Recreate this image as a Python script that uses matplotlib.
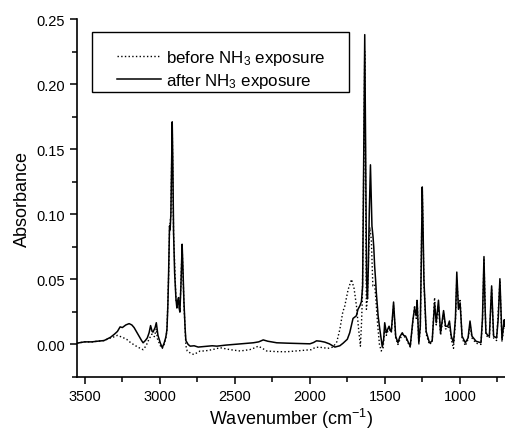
import matplotlib
matplotlib.use('Agg')

import matplotlib.pyplot as plt
from matplotlib.patches import Rectangle
from matplotlib.ticker import MultipleLocator, FormatStrFormatter

plt.rcParams['font.family'] = ['Liberation Sans', 'DejaVu Sans']
plt.rcParams['mathtext.default'] = 'regular'

# after NH3 exposure (solid)
wn_after = [3550, 3500, 3450, 3414, 3370, 3327, 3300, 3281, 3263, 3248, 3225, 3203, 3185, 3170,
            3150, 3137, 3120, 3110, 3095, 3082, 3070, 3060, 3050, 3044, 3030, 3022, 3011, 2995,
            2982, 2970, 2960, 2955, 2951, 2945, 2940, 2934, 2930, 2925, 2916, 2912, 2907, 2900,
            2891, 2885, 2880, 2874, 2870, 2865, 2858, 2850, 2845, 2838, 2830, 2825, 2810, 2796,
            2770, 2743, 2700, 2650, 2619, 2560, 2509, 2450, 2376, 2340, 2310, 2280, 2220, 2150,
            2080, 1999, 1975, 1955, 1930, 1900, 1870, 1833, 1800, 1778, 1750, 1734, 1712, 1690,
            1679, 1665, 1656, 1648, 1642, 1634, 1628, 1622, 1616, 1610, 1604, 1596, 1590, 1586,
            1579, 1574, 1568, 1562, 1557, 1545, 1534, 1517, 1508, 1501, 1490, 1480, 1472, 1465,
            1457, 1442, 1435, 1428, 1413, 1400, 1384, 1375, 1362, 1345, 1331, 1313, 1302, 1291,
            1285, 1274, 1264, 1258, 1251, 1245, 1240, 1225, 1203, 1185, 1169, 1158, 1143, 1129,
            1109, 1096, 1081, 1070, 1058, 1043, 1030, 1021, 1015, 1010, 999, 986, 964, 946,
            933, 920, 893, 860, 850, 840, 833, 827, 815, 804, 789, 776, 756, 745,
            734, 720, 705, 700]
abs_after = [0.001, 0.002, 0.002, 0.0025, 0.003, 0.0055, 0.008, 0.010, 0.0135, 0.013, 0.015, 0.016, 0.015, 0.013,
             0.009, 0.0065, 0.003, 0.0013, 0.003, 0.005, 0.009, 0.0145, 0.010, 0.0095, 0.013, 0.0167, 0.007, 0.001,
             -0.0025, 0.001, 0.005, 0.008, 0.012, 0.030, 0.055, 0.091, 0.088, 0.100, 0.171, 0.140, 0.086, 0.055,
             0.035, 0.028, 0.033, 0.036, 0.028, 0.025, 0.045, 0.077, 0.060, 0.033, 0.012, 0.003, 0.0, -0.0013,
             -0.001, -0.002, -0.0015, -0.001, -0.0013, -0.0005, 0.0, 0.0005, 0.0013, 0.002, 0.0035, 0.0025, 0.0013, 0.001,
             0.0008, 0.0005, 0.0015, 0.0028, 0.0025, 0.0018, 0.0005, -0.002, -0.001, 0.001, 0.004, 0.009, 0.020, 0.022,
             0.027, 0.030, 0.033, 0.045, 0.130, 0.238, 0.150, 0.050, 0.035, 0.060, 0.100, 0.138, 0.110, 0.091,
             0.083, 0.075, 0.060, 0.050, 0.040, 0.022, 0.012, -0.002, 0.004, 0.0167, 0.009, 0.012, 0.014, 0.011,
             0.010, 0.0326, 0.020, 0.0064, 0.0013, 0.006, 0.009, 0.007, 0.0064, 0.002, -0.0013, 0.019, 0.028, 0.022,
             0.033, 0.0013, 0.014, 0.060, 0.121, 0.085, 0.050, 0.010, 0.0013, 0.0025, 0.032, 0.0167, 0.034, 0.009,
             0.026, 0.014, 0.014, 0.018, 0.0064, 0.0013, 0.020, 0.0556, 0.040, 0.027, 0.032, 0.0064, 0.0013, 0.005,
             0.018, 0.0064, 0.0025, 0.0013, 0.020, 0.0675, 0.030, 0.009, 0.007, 0.0064, 0.045, 0.0064, 0.005, 0.020,
             0.0505, 0.004, 0.019, 0.015]

# before NH3 exposure (dotted)
wn_before = [3550, 3500, 3450, 3414, 3370, 3327, 3300, 3281, 3248, 3220, 3192, 3160, 3137, 3110,
             3090, 3071, 3051, 3035, 3022, 3015, 2995, 2982, 2970, 2960, 2951, 2940, 2934, 2925,
             2916, 2907, 2891, 2880, 2874, 2865, 2850, 2838, 2825, 2816, 2790, 2772, 2730, 2700,
             2650, 2597, 2530, 2464, 2400, 2365, 2343, 2315, 2287, 2220, 2155, 2090, 2022, 1990,
             1967, 1940, 1911, 1880, 1845, 1820, 1800, 1780, 1767, 1745, 1722, 1705, 1689, 1675,
             1663, 1656, 1650, 1642, 1634, 1628, 1623, 1616, 1608, 1600, 1590, 1580, 1568, 1560,
             1548, 1536, 1524, 1512, 1501, 1490, 1472, 1457, 1442, 1428, 1413, 1384, 1362, 1331,
             1313, 1302, 1291, 1285, 1274, 1264, 1251, 1240, 1225, 1203, 1185, 1169, 1158, 1143,
             1129, 1109, 1096, 1081, 1070, 1058, 1043, 1030, 1021, 1010, 999, 986, 964, 946,
             933, 920, 893, 860, 850, 840, 827, 804, 789, 776, 756, 734, 720, 705, 700]
abs_before = [0.001, 0.002, 0.002, 0.0025, 0.003, 0.005, 0.006, 0.007, 0.0055, 0.004, 0.0013, -0.001, -0.0025, -0.004,
              -0.001, 0.004, 0.008, 0.006, 0.012, 0.0045, -0.001, -0.003, 0.0, 0.004, 0.011, 0.052, 0.088, 0.100,
              0.168, 0.085, 0.034, 0.031, 0.035, 0.025, 0.075, 0.031, -0.001, -0.005, -0.007, -0.0077, -0.005, -0.005,
              -0.004, -0.0025, -0.004, -0.005, -0.004, -0.0025, -0.0013, -0.003, -0.005, -0.0055, -0.0056, -0.005, -0.0044, -0.004,
              -0.0025, -0.002, -0.0025, -0.003, -0.002, 0.002, 0.0115, 0.025, 0.0295, 0.042, 0.050, 0.043, 0.0295, 0.012,
              -0.0013, 0.015, 0.035, 0.120, 0.225, 0.120, 0.027, 0.035, 0.070, 0.090, 0.080, 0.045, 0.046, 0.035,
              0.015, 0.0, -0.005, -0.003, 0.012, 0.007, 0.013, 0.009, 0.030, 0.005, 0.0, 0.008, 0.005, -0.002,
              0.018, 0.030, 0.020, 0.035, 0.0, 0.012, 0.121, 0.048, 0.008, 0.0, 0.002, 0.036, 0.015, 0.030,
              0.007, 0.024, 0.012, 0.012, 0.016, 0.004, -0.003, 0.018, 0.050, 0.030, 0.035, 0.005, -0.001, 0.004,
              0.015, 0.005, 0.001, 0.0, 0.018, 0.065, 0.007, 0.005, 0.042, 0.005, 0.003, 0.048, 0.002, 0.016, 0.012]

fig = plt.figure(figsize=(5.05, 4.35), dpi=100)
ax = fig.add_axes([0.1525, 0.131, 0.8475, 0.823])

ax.plot(wn_before, abs_before, color='black', lw=1.0, ls=':', label='before NH$_3$ exposure')
ax.plot(wn_after, abs_after, color='black', lw=1.1, label='after NH$_3$ exposure')

ax.set_xlim(3550, 700)
ax.set_ylim(-0.025, 0.25)
ax.xaxis.set_major_locator(MultipleLocator(500))
ax.xaxis.set_minor_locator(MultipleLocator(250))
ax.yaxis.set_major_locator(MultipleLocator(0.05))
ax.yaxis.set_minor_locator(MultipleLocator(0.025))
ax.yaxis.set_major_formatter(FormatStrFormatter('%.2f'))

for s in ['top', 'right']:
    ax.spines[s].set_visible(False)
for s in ['left', 'bottom']:
    ax.spines[s].set_linewidth(1.2)
ax.tick_params(which='major', direction='out', length=5, width=1.1, labelsize=10.5)
ax.tick_params(which='minor', direction='out', length=3.5, width=1.1)

ax.set_xlabel('Wavenumber (cm$^{-1}$)', fontsize=13, labelpad=2)
ax.set_ylabel('Absorbance', fontsize=13)

# legend without its own frame, boxed by a separate rectangle
leg = ax.legend(loc='upper left', bbox_to_anchor=(0.058, 0.963), fontsize=12.2, frameon=False,
                handlelength=2.6, borderpad=0.4, labelspacing=0.25, handletextpad=0.3)
ax.add_patch(Rectangle((0.035, 0.796), 0.600, 0.168, transform=ax.transAxes,
                       fill=False, edgecolor='black', lw=1.0, zorder=5))

fig.savefig('out.png', dpi=100)
